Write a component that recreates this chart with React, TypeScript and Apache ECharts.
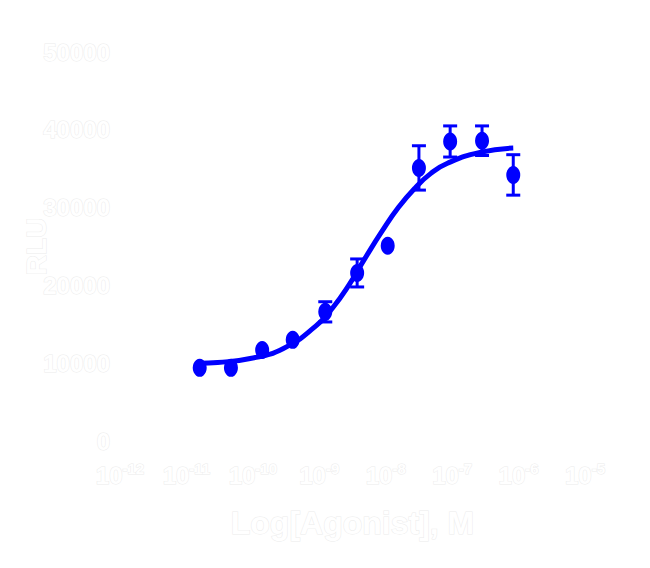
import React, { useEffect, useRef } from "react";
import * as echarts from "echarts";

// log10 of concentration (M)
const logDose = [-10.8, -10.33, -9.86, -9.4, -8.91, -8.43, -7.97, -7.5, -7.03, -6.55, -6.08];
const meanResp = [9400, 9400, 11700, 13000, 16600, 21600, 25100, 35100, 38500, 38600, 34200];
const errResp = [0, 0, 0, 0, 1300, 1800, 0, 2850, 2000, 1900, 2600];

// fitted curve
const curveX = [-10.8, -10.53, -10.04, -9.54, -9.05, -8.8, -8.55, -8.31, -8.06, -7.81, -7.56, -7.32, -7.07, -6.58, -6.08];
const curveY = [10000, 10100, 10600, 11900, 14800, 17100, 20100, 23500, 26900, 30000, 32500, 34400, 35700, 37100, 37650];

const yTicks = [0, 10000, 20000, 30000, 40000, 50000];
const xTickExp = [-12, -11, -10, -9, -8, -7, -6, -5];

const xTitle = "Log[Agonist], M";
const yTitle = "RLU";

const BLUE = "#0000ff";
const FONT = "'Liberation Sans', Arial, sans-serif";

const App = () => {
  const chartRef = useRef<HTMLDivElement | null>(null);

  useEffect(() => {
    document.body.style.margin = "0";
    if (!chartRef.current) return;
    const myChart = echarts.init(chartRef.current, undefined, { renderer: "svg" });

    const labelStyle = {
      color: "#ffffff",
      fontFamily: FONT,
      fontWeight: "bold" as const,
      textBorderColor: "#ececec",
      textBorderWidth: 1,
    };

    const option = {
      animation: false,
      backgroundColor: "#ffffff",
      grid: { left: 120, right: 65, top: 52, bottom: 127, containLabel: false, outerBoundsMode: "none" },
      xAxis: {
        type: "value",
        min: -12,
        max: -5,
        interval: 1,
        name: xTitle,
        nameLocation: "middle",
        nameGap: 66,
        nameTextStyle: { ...labelStyle, fontSize: 32 },
        axisLine: { show: true, lineStyle: { color: "#ffffff", width: 3 } },
        axisTick: { show: true, lineStyle: { color: "#ffffff", width: 3 } },
        splitLine: { show: false },
        axisLabel: {
          margin: 20,
          formatter: (v: number) =>
            xTickExp.includes(Math.round(v)) ? `{b|10}{s|${Math.round(v)}}` : "",
          rich: {
            b: { ...labelStyle, fontSize: 24 },
            s: { ...labelStyle, fontSize: 15, padding: [0, 0, 14, 0] },
          },
        },
      },
      yAxis: {
        type: "value",
        min: yTicks[0],
        max: yTicks[yTicks.length - 1],
        interval: 10000,
        name: yTitle,
        nameLocation: "middle",
        nameGap: 70,
        nameMoveOverlap: false,
        nameRotate: 90,
        nameTextStyle: { ...labelStyle, fontSize: 28 },
        axisLine: { show: true, lineStyle: { color: "#ffffff", width: 3 } },
        axisTick: { show: true, lineStyle: { color: "#ffffff", width: 3 } },
        splitLine: { show: false },
        axisLabel: { ...labelStyle, fontSize: 24, margin: 10, formatter: (v: number) => String(v) },
      },
      series: [
        {
          type: "line",
          data: curveX.map((x, i) => [x, curveY[i]]),
          smooth: true,
          showSymbol: false,
          lineStyle: { color: BLUE, width: 5 },
          z: 2,
        },
        {
          type: "custom",
          data: logDose.map((x, i) => [x, meanResp[i] - errResp[i], meanResp[i] + errResp[i], errResp[i]]),
          renderItem: (params: any, api: any) => {
            if (api.value(3) === 0) return null;
            const top = api.coord([api.value(0), api.value(2)]);
            const bot = api.coord([api.value(0), api.value(1)]);
            const hw = 7;
            const st = { stroke: BLUE, lineWidth: 3 };
            return {
              type: "group",
              children: [
                { type: "line", shape: { x1: top[0], y1: top[1], x2: bot[0], y2: bot[1] }, style: st },
                { type: "line", shape: { x1: top[0] - hw, y1: top[1], x2: top[0] + hw, y2: top[1] }, style: st },
                { type: "line", shape: { x1: bot[0] - hw, y1: bot[1], x2: bot[0] + hw, y2: bot[1] }, style: st },
              ],
            };
          },
          z: 3,
        },
        {
          type: "scatter",
          data: logDose.map((x, i) => [x, meanResp[i]]),
          symbol: "circle",
          symbolSize: [14, 18],
          itemStyle: { color: BLUE, opacity: 1 },
          z: 4,
        },
      ],
    };

    myChart.setOption(option);
    return () => {
      myChart.dispose();
    };
  }, []);

  return <div ref={chartRef} style={{ width: "650px", height: "568px" }}></div>;
};

export default App;
